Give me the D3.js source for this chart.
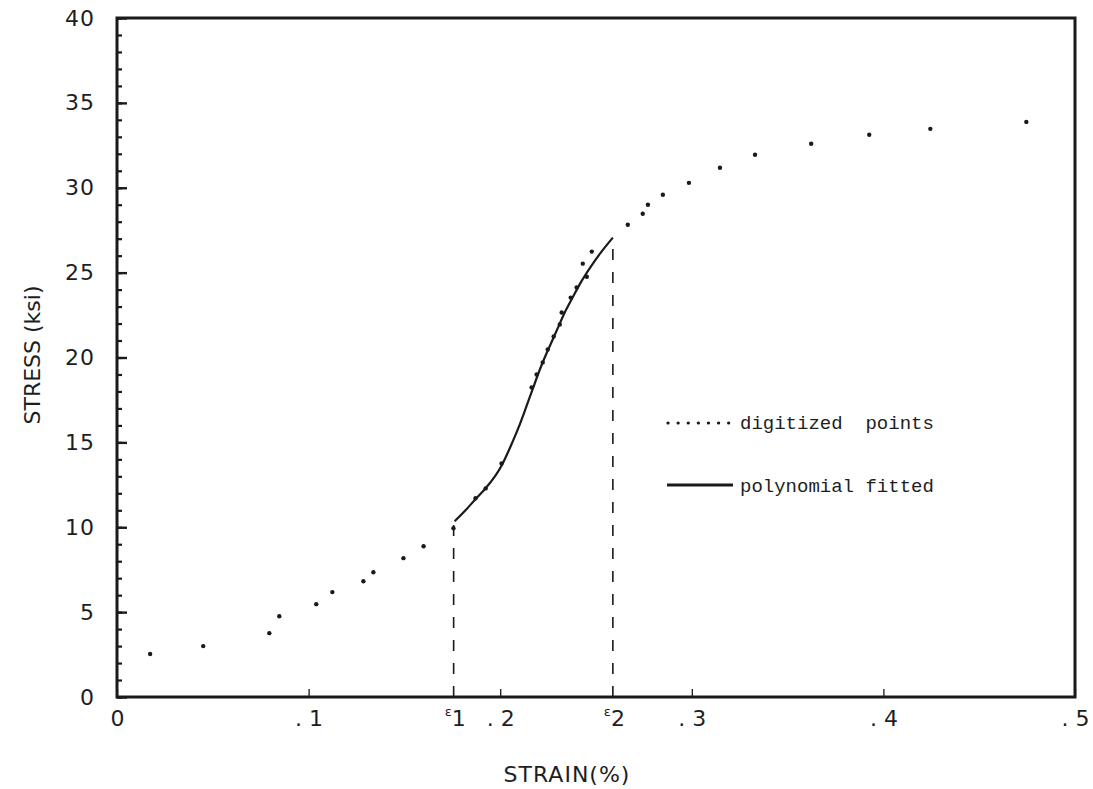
<!DOCTYPE html>
<html>
<head>
<meta charset="utf-8">
<script src="https://cdn.jsdelivr.net/npm/d3@7"></script>
<style>
  html, body { margin: 0; padding: 0; background: #fff; }
  svg text { fill: #1e1e1e; }
</style>
</head>
<body>
<svg id="chart" width="1093" height="789"></svg>
<script>
const pointStrain = [0.0173, 0.0450, 0.0795, 0.0847, 0.1040, 0.1124, 0.1286, 0.1338, 0.1495, 0.1600,
  0.1756, 0.1871, 0.1924, 0.2007, 0.2164, 0.2190, 0.2222, 0.2248, 0.2279, 0.2311, 0.2321, 0.2368,
  0.2399, 0.2431, 0.2452, 0.2478, 0.2666, 0.2744, 0.2771, 0.2849, 0.2985, 0.3147, 0.3330, 0.3623,
  0.3926, 0.4245, 0.4746];
const pointStress = [2.53, 3.00, 3.76, 4.76, 5.47, 6.18, 6.82, 7.35, 8.18, 8.88,
  9.94, 11.71, 12.29, 13.76, 18.24, 19.00, 19.71, 20.47, 21.24, 21.94, 22.65, 23.53,
  24.12, 25.53, 24.76, 26.24, 27.82, 28.47, 29.00, 29.59, 30.29, 31.18, 31.94, 32.59,
  33.12, 33.47, 33.88];

// Polynomial fitted between eps1 and eps2
const fitStrain = [0.1762, 0.1819, 0.1871, 0.1924, 0.1976, 0.2013, 0.2054, 0.2096, 0.2133, 0.2169,
  0.2211, 0.2253, 0.2295, 0.2337, 0.2378, 0.2420, 0.2473, 0.2525, 0.2588];
const fitStress = [10.35, 11.00, 11.65, 12.30, 13.06, 13.76, 14.76, 15.88, 17.00, 18.12,
  19.41, 20.53, 21.59, 22.65, 23.53, 24.41, 25.35, 26.18, 27.06];

// Bounds of the fitted range
const epsStrain = [0.1757, 0.2588];
const epsStress = [10.35, 27.06];
const epsNames = ["1", "2"];

const xTicks = [0, 0.1, 0.2, 0.3, 0.4, 0.5];
const xTickLabels = ["0", ". 1", ". 2", ". 3", ". 4", ". 5"];
const yTicks = [0, 5, 10, 15, 20, 25, 30, 35, 40];

const svg = d3.select("#chart");
const plotLeft = 117, plotTop = 18, plotRight = 1075, plotBottom = 697;

const x = d3.scaleLinear().domain([0, 0.5]).range([plotLeft, plotRight]);
const y = d3.scaleLinear().domain([0, 40]).range([plotBottom, plotTop]);

const ink = "#1a1a1a";

// Minor y ticks (every 1 ksi), pointing inward
svg.append("g")
  .attr("transform", `translate(${plotLeft},0)`)
  .call(d3.axisLeft(y).tickValues(d3.range(0, 41)).tickSize(-5).tickFormat(""))
  .call(g => g.select(".domain").remove())
  .call(g => g.selectAll("line").attr("stroke", ink).attr("stroke-width", 2.2));

// Major y ticks with labels
svg.append("g")
  .attr("transform", `translate(${plotLeft},0)`)
  .call(d3.axisLeft(y).tickValues(yTicks).tickSizeInner(-10).tickSizeOuter(0).tickPadding(22))
  .call(g => g.select(".domain").remove())
  .call(g => g.selectAll("line").attr("stroke", ink).attr("stroke-width", 2.4))
  .call(g => g.selectAll("text")
    .attr("font-family", "DejaVu Sans, sans-serif")
    .attr("font-size", 22)
    .attr("letter-spacing", 1)
    .attr("fill", "#2a2a2a"));

// x ticks pointing inward
svg.append("g")
  .attr("transform", `translate(0,${plotBottom})`)
  .call(d3.axisBottom(x).tickValues(xTicks).tickSizeInner(-8).tickSizeOuter(0).tickPadding(13)
    .tickFormat((d, i) => xTickLabels[i]))
  .call(g => g.select(".domain").remove())
  .call(g => g.selectAll("line").attr("stroke", ink).attr("stroke-width", 1.3))
  .call(g => g.selectAll("text")
    .attr("font-family", "DejaVu Sans, sans-serif")
    .attr("font-size", 22)
    .attr("fill", "#333")
    .attr("xml:space", "preserve"));

// Frame
svg.append("rect")
  .attr("x", plotLeft).attr("y", plotTop)
  .attr("width", plotRight - plotLeft).attr("height", plotBottom - plotTop)
  .attr("fill", "none").attr("stroke", ink).attr("stroke-width", 3);

// Dashed verticals at eps1 and eps2
svg.append("g").selectAll("line")
  .data(epsStrain)
  .join("line")
  .attr("x1", d => x(d)).attr("x2", d => x(d))
  .attr("y1", y(0)).attr("y2", (d, i) => y(epsStress[i]))
  .attr("stroke", ink).attr("stroke-width", 1.6)
  .attr("stroke-dasharray", "11,12");

// eps labels under the axis
const epsLab = svg.append("g").selectAll("text")
  .data(epsStrain)
  .join("text")
  .attr("x", d => x(d) - 9)
  .attr("y", 726)
  .attr("font-family", "DejaVu Sans, sans-serif")
  .attr("fill", "#333");
epsLab.append("tspan").attr("font-size", 13).attr("dy", -10).text("ε");
epsLab.append("tspan").attr("font-size", 22).attr("dy", 10).attr("dx", 0).text((d, i) => epsNames[i]);

// Fitted polynomial curve
svg.append("path")
  .datum(fitStrain.map((s, i) => [s, fitStress[i]]))
  .attr("fill", "none")
  .attr("stroke", ink)
  .attr("stroke-width", 2.2)
  .attr("d", d3.line().x(d => x(d[0])).y(d => y(d[1])).curve(d3.curveNatural));

svg.append("g").selectAll("circle")
  .data(pointStrain.map((s, i) => [s, pointStress[i]]))
  .join("circle")
  .attr("cx", d => x(d[0]))
  .attr("cy", d => y(d[1]))
  .attr("r", 2.2)
  .attr("fill", ink);

// Legend
const legend = svg.append("g");
legend.append("line")
  .attr("x1", 668).attr("x2", 732).attr("y1", 423).attr("y2", 423)
  .attr("stroke", ink).attr("stroke-width", 3.2)
  .attr("stroke-linecap", "round")
  .attr("stroke-dasharray", "0.1,10");
legend.append("line")
  .attr("x1", 667).attr("x2", 733).attr("y1", 485).attr("y2", 485)
  .attr("stroke", ink).attr("stroke-width", 3);
legend.append("text")
  .attr("x", 740).attr("y", 429)
  .attr("font-family", "Liberation Mono, monospace")
  .attr("font-size", 19)
  .attr("fill", "#222")
  .attr("xml:space", "preserve")
  .text("digitized  points");
legend.append("text")
  .attr("x", 740).attr("y", 492)
  .attr("font-family", "Liberation Mono, monospace")
  .attr("font-size", 19)
  .attr("fill", "#222")
  .text("polynomial fitted");

// Axis titles
svg.append("text")
  .attr("x", 567).attr("y", 782)
  .attr("text-anchor", "middle")
  .attr("font-family", "DejaVu Sans, sans-serif")
  .attr("font-size", 22)
  .attr("letter-spacing", 1)
  .attr("fill", "#444")
  .text("STRAIN(%)");

svg.append("text")
  .attr("transform", "translate(40,355) rotate(-90)")
  .attr("text-anchor", "middle")
  .attr("font-family", "DejaVu Sans, sans-serif")
  .attr("font-size", 22)
  .attr("fill", "#2a2a2a")
  .text("STRESS (ksi)");
</script>
</body>
</html>
